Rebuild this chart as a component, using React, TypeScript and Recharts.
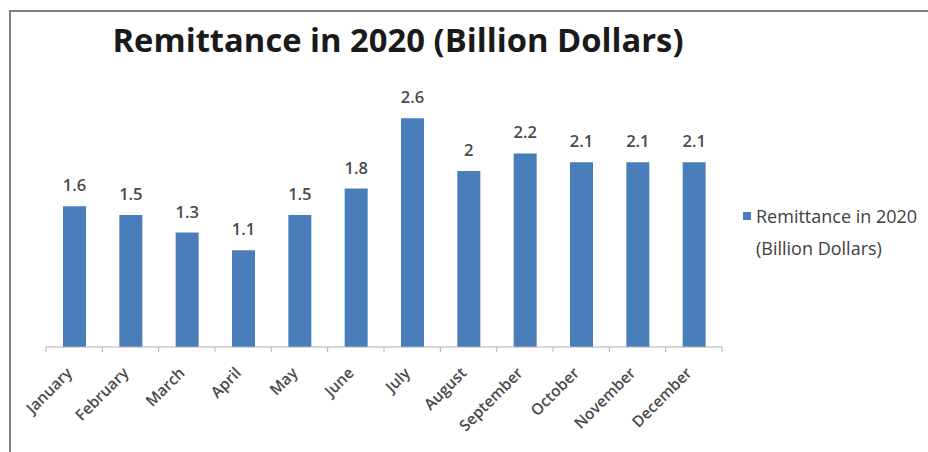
import React from "react";
import { BarChart, Bar, XAxis, YAxis, LabelList, Legend } from "recharts";

const months = [
  "January", "February", "March", "April", "May", "June",
  "July", "August", "September", "October", "November", "December",
];
const remittance = [1.6, 1.5, 1.3, 1.1, 1.5, 1.8, 2.6, 2.0, 2.2, 2.1, 2.1, 2.1];
const seriesName = "Remittance in 2020 (Billion Dollars)";
const titleText = "Remittance in 2020 (Billion Dollars)";

const data = months.map((m, i) => ({ month: m, value: remittance[i] }));

const W = 928;
const H = 452;
const margin = { top: 83, right: 206, bottom: 45, left: 46 };
const plotWidth = W - margin.left - margin.right;
const band = plotWidth / months.length;
const FONT = "'Open Sans', 'DejaVu Sans', sans-serif";

const MonthTick = (props: any) => {
  const { x, y, payload, index } = props;
  const last = index === months.length - 1;
  const tx = x - 1;
  const ty = y + 27;
  return (
    <g>
      <line x1={x - band / 2} x2={x - band / 2} y1={y} y2={y + 5} stroke="#b0b0b0" />
      {last && <line x1={x + band / 2} x2={x + band / 2} y1={y} y2={y + 5} stroke="#b0b0b0" />}
      <text
        x={tx}
        y={ty}
        textAnchor="end"
        transform={`rotate(-45, ${tx}, ${ty})`}
        fontFamily={FONT}
        fontSize={15.5}
        fontWeight={600}
        fill="#4a4a4a"
      >
        {payload.value}
      </text>
    </g>
  );
};

const LegendContent = () => (
  <div style={{ fontFamily: FONT, fontSize: 18, color: "#404040", lineHeight: "32px", position: "relative" }}>
    <span
      style={{
        position: "absolute",
        left: 3,
        top: 12,
        width: 8,
        height: 8,
        background: "#4a7ebb",
      }}
    />
    <div style={{ paddingLeft: 16, whiteSpace: "nowrap" }}>Remittance in 2020</div>
    <div style={{ paddingLeft: 16, whiteSpace: "nowrap" }}>(Billion Dollars)</div>
  </div>
);

export default function App() {
  return (
    <div style={{ position: "fixed", left: 0, top: 0, width: W, height: H, background: "#fff", overflow: "hidden" }}>
      <div
        style={{
          position: "absolute",
          left: 9,
          top: 10,
          width: W,
          height: H,
          borderTop: "2px solid #7f7f7f",
          borderLeft: "2px solid #7f7f7f",
        }}
      />
      <svg width={W} height={80} style={{ position: "absolute", left: 0, top: 0 }}>
        <text
          x={398}
          y={52}
          textAnchor="middle"
          fontFamily={FONT}
          fontWeight={700}
          fontSize={32}
          fill="#1a1a1a"
          textLength={571}
          lengthAdjust="spacingAndGlyphs"
        >
          {titleText}
        </text>
      </svg>
      <div style={{ position: "absolute", left: 0, top: 0 }}>
        <BarChart width={W} height={H} data={data} margin={margin} barSize={23}>
          <YAxis hide domain={[0, 3]} />
          <XAxis
            dataKey="month"
            interval={0}
            height={60}
            tickLine={false}
            tickSize={0}
            tickMargin={0}
            axisLine={{ stroke: "#b0b0b0" }}
            tick={<MonthTick />}
          />
          <Legend
            verticalAlign="middle"
            align="center"
            layout="horizontal"
            content={<LegendContent />}
            wrapperStyle={{ left: 740, top: 200, width: 190 }}
          />
          <Bar dataKey="value" name={seriesName} fill="#4a7ebb" isAnimationActive={false}>
            <LabelList
              dataKey="value"
              position="top"
              offset={15}
              fontFamily={FONT}
              fontSize={16.5}
              fontWeight={600}
              fill="#4a4a4a"
            />
          </Bar>
        </BarChart>
      </div>
    </div>
  );
}
